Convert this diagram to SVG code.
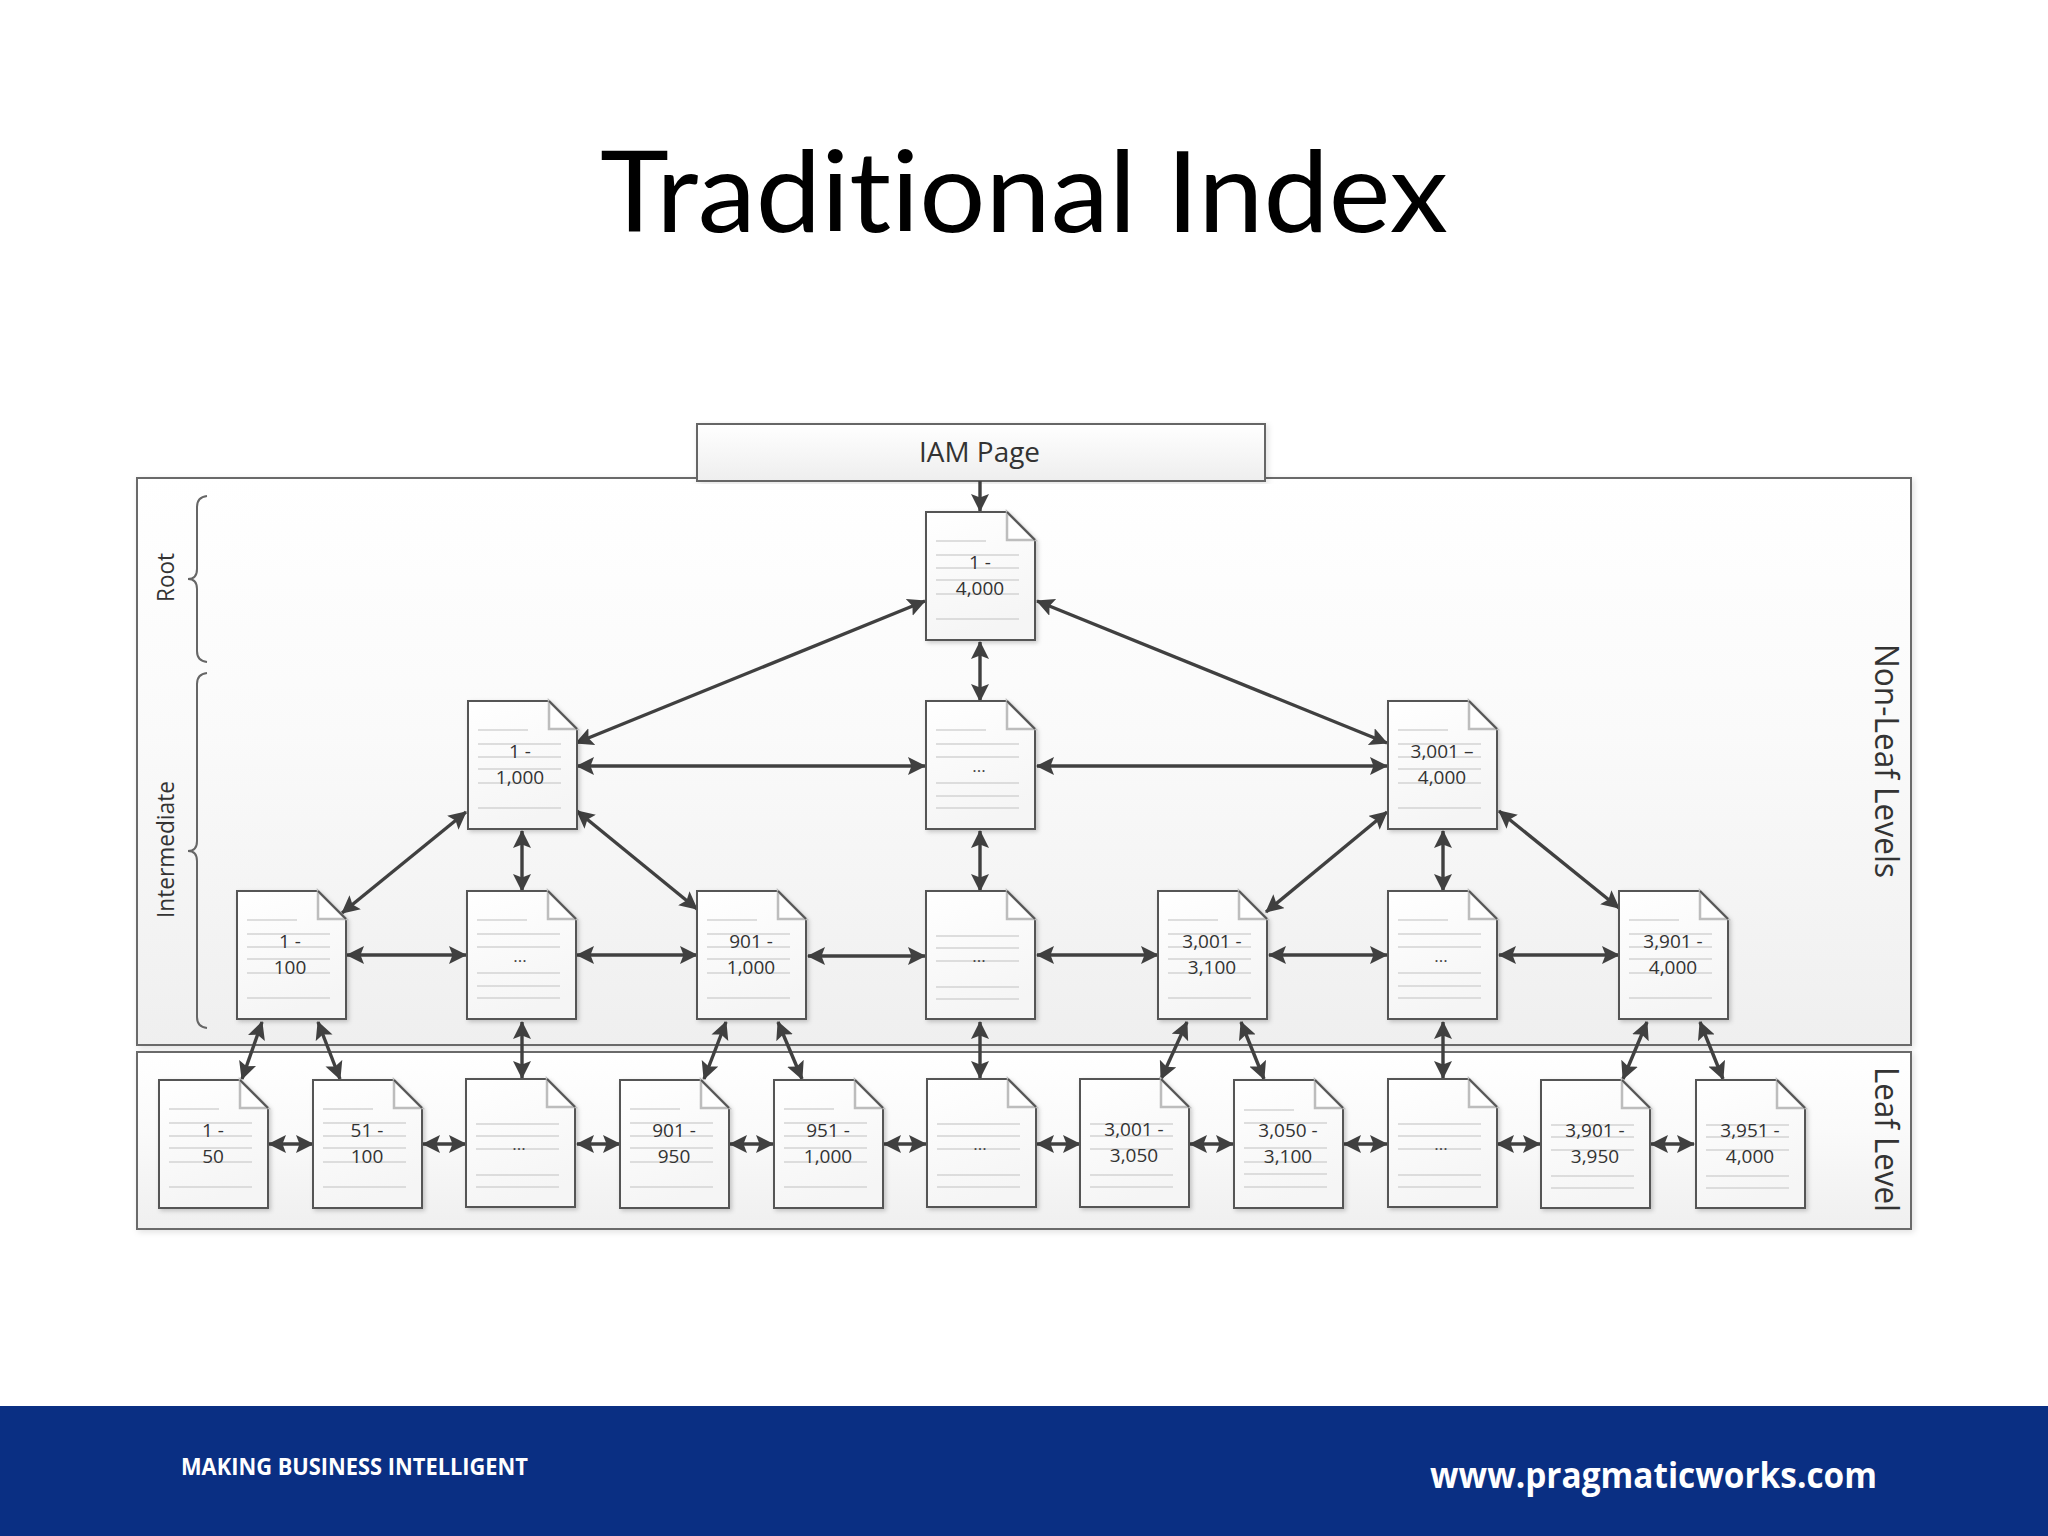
<svg xmlns="http://www.w3.org/2000/svg" width="2048" height="1536" viewBox="0 0 2048 1536">
<style>
.panel{stroke:#6a6a6a;stroke-width:2;filter:url(#sh)}
.brace{fill:none;stroke:#666;stroke-width:2}
.lab{font-family:"Open Sans","Liberation Sans",sans-serif;fill:#333}
.t{font-family:"Open Sans","Liberation Sans",sans-serif;font-size:19px;fill:#333;text-anchor:middle}
.d{font-family:"Open Sans","Liberation Sans",sans-serif;font-size:17px;fill:#444;text-anchor:middle}
.body{fill:url(#docg);stroke:#555;stroke-width:2;filter:url(#sh2)}
.fold{fill:#fefefe;stroke:#bdbdbd;stroke-width:2.5}
.edge{fill:none;stroke:#555;stroke-width:2}
.ln{stroke:#d4d4d4;stroke-width:1.5;fill:none}
#connectors line{stroke:#404040;stroke-width:3.4;marker-start:url(#ah);marker-end:url(#ah)}
#connectors line.one{marker-start:none}
</style>
<defs>
<linearGradient id="pg" x1="0" y1="0" x2="0" y2="1"><stop offset="0" stop-color="#ffffff"/><stop offset="0.45" stop-color="#fafafa"/><stop offset="1" stop-color="#efefef"/></linearGradient>
<linearGradient id="docg" x1="0" y1="0" x2="0.3" y2="1"><stop offset="0" stop-color="#ffffff"/><stop offset="1" stop-color="#f5f5f5"/></linearGradient>
<linearGradient id="iamg" x1="0" y1="0" x2="0" y2="1"><stop offset="0" stop-color="#ffffff"/><stop offset="1" stop-color="#eeeeee"/></linearGradient>
<filter id="sh" x="-2%" y="-5%" width="104%" height="110%"><feDropShadow dx="2" dy="2" stdDeviation="3" flood-color="#000" flood-opacity="0.12"/></filter>
<filter id="sh2" x="-10%" y="-10%" width="125%" height="125%"><feDropShadow dx="2" dy="2" stdDeviation="2" flood-color="#000" flood-opacity="0.2"/></filter>
<marker id="ah" markerUnits="userSpaceOnUse" markerWidth="20" markerHeight="20" refX="17" refY="9" orient="auto-start-reverse"><path d="M18,9 L0,0 L3.5,9 L0,18 Z" fill="#404040"/></marker>
<g id="shape">
<path class="body" d="M0,0 H81 L109,28 V128 H0 Z"/>
<path class="fold" d="M81,0 V28 H109 Z"/>
<path class="edge" d="M81,0 L109,28"/>
</g>
<g id="doc"><use href="#shape"/><path class="ln" d="M10,29H60M10,43H93M10,56H93M10,68H93M10,82H93M10,107H93"/></g>
<g id="docd"><use href="#shape"/><path class="ln" d="M10,29H60M10,43H93M10,56H93M10,82H93M10,95H93M10,107H93"/></g>
<g id="docl"><use href="#shape"/><path class="ln" d="M10,45H93M10,57H93M10,70H93M10,96H93M10,108H93"/></g>
<g id="docx"><use href="#shape"/><path class="ln" d="M10,30H60M10,43H93M10,68H93M10,82H93M10,94H93M10,107H93"/></g>
</defs>
<rect width="2048" height="1536" fill="#ffffff"/>
<text x="600" y="232" font-family="Lato,'Open Sans',sans-serif" font-size="112" fill="#000" style="font-variant-ligatures:none" textLength="848" lengthAdjust="spacingAndGlyphs">Traditional Index</text>

<g id="panels">
<rect class="panel" x="137" y="478" width="1774" height="567" fill="url(#pg)"/>
<rect class="panel" x="137" y="1052" width="1774" height="177" fill="url(#pg)"/>
</g>
<g id="iam"><rect x="697" y="424" width="568" height="57" fill="url(#iamg)" stroke="#666" stroke-width="2" filter="url(#sh)"/>
<text class="lab" x="919" y="462" font-size="27" textLength="121" lengthAdjust="spacingAndGlyphs">IAM Page</text></g>

<g id="braces">
<path class="brace" d="M207,496 Q197,497 197,507 V569 Q197,579 188,579 Q197,579 197,589 V651 Q197,661 207,662"/>
<path class="brace" d="M207,673 Q197,674 197,684 V841 Q197,851 188,851 Q197,851 197,861 V1017 Q197,1027 207,1028"/>
<text id="lab-root" class="lab" transform="translate(174,602) rotate(-90)" font-size="23" textLength="49" lengthAdjust="spacingAndGlyphs">Root</text>
<text id="lab-inter" class="lab" transform="translate(174,918) rotate(-90)" font-size="23" textLength="137" lengthAdjust="spacingAndGlyphs">Intermediate</text>
<text id="lab-nonleaf" class="lab" transform="translate(1875,644) rotate(90)" font-size="32" textLength="234" lengthAdjust="spacingAndGlyphs">Non-Leaf Levels</text>
<text id="lab-leaf" class="lab" transform="translate(1875,1067) rotate(90)" font-size="32" textLength="145" lengthAdjust="spacingAndGlyphs">Leaf Level</text>
</g>

<g id="connectors">
<line class="one" x1="980" y1="481" x2="980" y2="511"/>
<line x1="925" y1="601" x2="576" y2="743"/>
<line x1="1037" y1="601" x2="1387" y2="743"/>
<line x1="980" y1="642" x2="980" y2="701"/>
<line x1="577" y1="766" x2="925" y2="766"/>
<line x1="1037" y1="766" x2="1387" y2="766"/>
<line x1="466" y1="812" x2="342" y2="913"/>
<line x1="522" y1="831" x2="522" y2="891"/>
<line x1="577" y1="811" x2="697" y2="909"/>
<line x1="980" y1="831" x2="980" y2="891"/>
<line x1="1387" y1="812" x2="1266" y2="912"/>
<line x1="1443" y1="831" x2="1443" y2="891"/>
<line x1="1499" y1="811" x2="1619" y2="908"/>
<line x1="347" y1="955" x2="466" y2="955"/>
<line x1="577" y1="955" x2="697" y2="955"/>
<line x1="808" y1="956" x2="925" y2="956"/>
<line x1="1037" y1="955" x2="1158" y2="955"/>
<line x1="1269" y1="955" x2="1387" y2="955"/>
<line x1="1499" y1="955" x2="1619" y2="955"/>
<line x1="262" y1="1022" x2="242" y2="1079"/>
<line x1="318" y1="1022" x2="340" y2="1079"/>
<line x1="522" y1="1022" x2="522" y2="1078"/>
<line x1="726" y1="1022" x2="704" y2="1079"/>
<line x1="778" y1="1022" x2="802" y2="1079"/>
<line x1="980" y1="1022" x2="980" y2="1078"/>
<line x1="1187" y1="1022" x2="1161" y2="1079"/>
<line x1="1241" y1="1022" x2="1264" y2="1079"/>
<line x1="1443" y1="1022" x2="1443" y2="1078"/>
<line x1="1647" y1="1022" x2="1623" y2="1079"/>
<line x1="1700" y1="1022" x2="1723" y2="1079"/>
<line x1="269" y1="1144" x2="313" y2="1144"/>
<line x1="423" y1="1144" x2="466" y2="1144"/>
<line x1="577" y1="1144" x2="620" y2="1144"/>
<line x1="730" y1="1144" x2="773" y2="1144"/>
<line x1="884" y1="1144" x2="926" y2="1144"/>
<line x1="1037" y1="1144" x2="1080" y2="1144"/>
<line x1="1190" y1="1144" x2="1233" y2="1144"/>
<line x1="1344" y1="1144" x2="1387" y2="1144"/>
<line x1="1497" y1="1144" x2="1540" y2="1144"/>
<line x1="1651" y1="1144" x2="1694" y2="1144"/>
</g>

<g id="n-root" transform="translate(926,512)"><use href="#doc"/><text class="t" x="54" y="57">1 -</text><text class="t" x="54" y="83">4,000</text></g>

<g id="n-i1" transform="translate(468,701)"><use href="#doc"/><text class="t" x="52" y="57">1 -</text><text class="t" x="52" y="83">1,000</text></g>
<g id="n-i2" transform="translate(926,701)"><use href="#docd"/><text class="d" x="53" y="71">...</text></g>
<g id="n-i3" transform="translate(1388,701)"><use href="#doc"/><text class="t" x="54" y="57">3,001 –</text><text class="t" x="54" y="83">4,000</text></g>

<g id="n-m1" transform="translate(237,891)"><use href="#doc"/><text class="t" x="53" y="57">1 -</text><text class="t" x="53" y="83">100</text></g>
<g id="n-m2" transform="translate(467,891)"><use href="#docd"/><text class="d" x="53" y="71">...</text></g>
<g id="n-m3" transform="translate(697,891)"><use href="#doc"/><text class="t" x="54" y="57">901 -</text><text class="t" x="54" y="83">1,000</text></g>
<g id="n-m4" transform="translate(926,891)"><use href="#docl"/><text class="d" x="53" y="71">...</text></g>
<g id="n-m5" transform="translate(1158,891)"><use href="#doc"/><text class="t" x="54" y="57">3,001 -</text><text class="t" x="54" y="83">3,100</text></g>
<g id="n-m6" transform="translate(1388,891)"><use href="#docd"/><text class="d" x="53" y="71">...</text></g>
<g id="n-m7" transform="translate(1619,891)"><use href="#doc"/><text class="t" x="54" y="57">3,901 -</text><text class="t" x="54" y="83">4,000</text></g>

<g id="n-l1" transform="translate(159,1080)"><use href="#doc"/><text class="t" x="54" y="57">1 -</text><text class="t" x="54" y="83">50</text></g>
<g id="n-l2" transform="translate(313,1080)"><use href="#doc"/><text class="t" x="54" y="57">51 -</text><text class="t" x="54" y="83">100</text></g>
<g id="n-l3" transform="translate(466,1079)"><use href="#docl"/><text class="d" x="53" y="71">...</text></g>
<g id="n-l4" transform="translate(620,1080)"><use href="#doc"/><text class="t" x="54" y="57">901 -</text><text class="t" x="54" y="83">950</text></g>
<g id="n-l5" transform="translate(774,1080)"><use href="#doc"/><text class="t" x="54" y="57">951 -</text><text class="t" x="54" y="83">1,000</text></g>
<g id="n-l6" transform="translate(927,1079)"><use href="#docl"/><text class="d" x="53" y="71">...</text></g>
<g id="n-l7" transform="translate(1080,1079)"><use href="#docl"/><text class="t" x="54" y="57">3,001 -</text><text class="t" x="54" y="83">3,050</text></g>
<g id="n-l8" transform="translate(1234,1080)"><use href="#docx"/><text class="t" x="54" y="57">3,050 -</text><text class="t" x="54" y="83">3,100</text></g>
<g id="n-l9" transform="translate(1388,1079)"><use href="#docl"/><text class="d" x="53" y="71">...</text></g>
<g id="n-l10" transform="translate(1541,1080)"><use href="#docl"/><text class="t" x="54" y="57">3,901 -</text><text class="t" x="54" y="83">3,950</text></g>
<g id="n-l11" transform="translate(1696,1080)"><use href="#docl"/><text class="t" x="54" y="57">3,951 -</text><text class="t" x="54" y="83">4,000</text></g>

<g id="footer">
<rect x="0" y="1406" width="2048" height="130" fill="#0a2f83"/>
<text x="181" y="1475" font-family="'Open Sans',sans-serif" font-weight="700" font-size="23" fill="#fff" textLength="347" lengthAdjust="spacingAndGlyphs">MAKING BUSINESS INTELLIGENT</text>
<text x="1430" y="1488" font-family="'Open Sans',sans-serif" font-weight="700" font-size="35" fill="#fff" textLength="447" lengthAdjust="spacingAndGlyphs">www.pragmaticworks.com</text>
</g>
</svg>
